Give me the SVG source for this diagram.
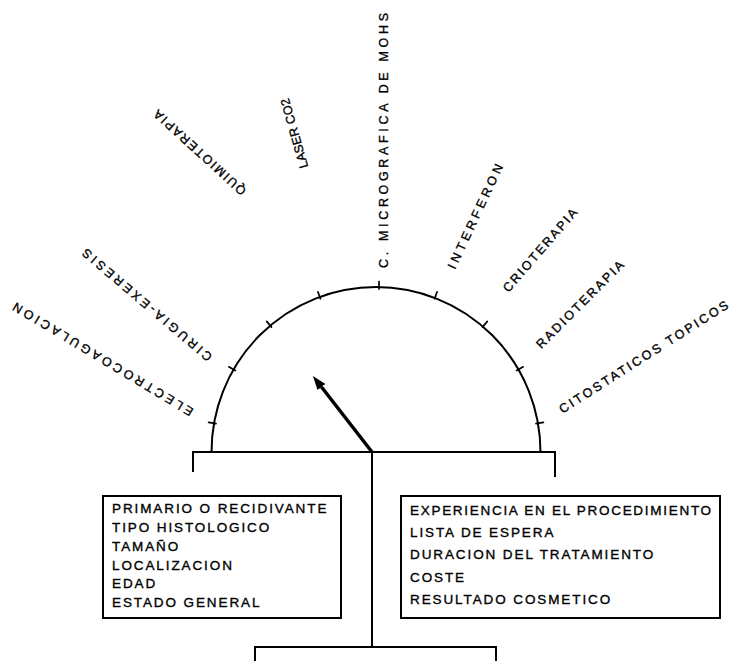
<svg xmlns="http://www.w3.org/2000/svg" width="733" height="661" viewBox="0 0 733 661">
<style>
  .ln{fill:none;stroke:#000;stroke-width:2;stroke-linecap:square}
  .arc{fill:none;stroke:#000;stroke-width:2}
  .tick{stroke:#000;stroke-width:1.7;stroke-linecap:round}
  .lbl{font-family:"Liberation Sans",Arial,sans-serif;font-size:12.5px;fill:#000;stroke:#000;stroke-width:0.35}
  .bx{font-family:"Liberation Sans",Arial,sans-serif;font-size:13.5px;letter-spacing:1.9px;fill:#000;stroke:#000;stroke-width:0.35}
  .box{fill:#fff;stroke:#000;stroke-width:2}
</style>
<defs>
  <marker id="ah" markerUnits="userSpaceOnUse" markerWidth="16" markerHeight="12" refX="0" refY="5" orient="auto">
    <path d="M0,0 L14,5 L0,10 z" fill="#000"/>
  </marker>
</defs>
<rect width="733" height="661" fill="#fff"/>

<g id="gauge">
  <path class="arc" d="M211.5 452 A164.5 165 0 0 1 540.5 452"/>
  <g id="ticks">
    <line class="tick" x1="536.0" y1="423.7" x2="543.4" y2="422.4"/>
    <line class="tick" x1="516.7" y1="370.5" x2="523.2" y2="366.8"/>
    <line class="tick" x1="482.5" y1="327.1" x2="487.3" y2="321.4"/>
    <line class="tick" x1="434.6" y1="298.8" x2="437.1" y2="291.8"/>
    <line class="tick" x1="379" y1="289" x2="379" y2="281.5"/>
    <line class="tick" x1="320.4" y1="298.8" x2="317.9" y2="291.8"/>
    <line class="tick" x1="271.5" y1="327.1" x2="266.7" y2="321.4"/>
    <line class="tick" x1="235.3" y1="370.5" x2="228.8" y2="366.8"/>
    <line class="tick" x1="216.0" y1="423.7" x2="208.6" y2="422.4"/>
  </g>
  <path class="ln" d="M193 471 V452 H555 V476"/>
</g>

<g id="labels">
  <g id="lbl-electro" transform="translate(192 413) rotate(-149)"><text class="lbl" x="0" y="4.5" textLength="208" lengthAdjust="spacing">ELECTROCOAGULACION</text></g>
  <g id="lbl-cirugia" transform="translate(210 359) rotate(-139.5)"><text class="lbl" x="0" y="4.5" textLength="166" lengthAdjust="spacing">CIRUGIA-EXERESIS</text></g>
  <g id="lbl-quimio" transform="translate(244 193) rotate(-137.7)"><text class="lbl" x="0" y="4.5" textLength="120" lengthAdjust="spacing">QUIMIOTERAPIA</text></g>
  <g id="lbl-laser" transform="translate(304 168) rotate(-106)"><text class="lbl" x="0" y="4.5" textLength="72" lengthAdjust="spacing">LASER CO2</text></g>
  <g id="lbl-mohs" transform="translate(383 268) rotate(-90)"><text class="lbl" x="0" y="4.5" textLength="255" lengthAdjust="spacing">C. MICROGRAFICA DE MOHS</text></g>
  <g id="lbl-interferon" transform="translate(451 268) rotate(-65)"><text class="lbl" x="0" y="4.5" textLength="114" lengthAdjust="spacing">INTERFERON</text></g>
  <g id="lbl-crio" transform="translate(505 290) rotate(-49)"><text class="lbl" x="0" y="4.5" textLength="106" lengthAdjust="spacing">CRIOTERAPIA</text></g>
  <g id="lbl-radio" transform="translate(538 346) rotate(-45)"><text class="lbl" x="0" y="4.5" textLength="118" lengthAdjust="spacing">RADIOTERAPIA</text></g>
  <g id="lbl-cito" transform="translate(560 410) rotate(-32.5)"><text class="lbl" x="0" y="4.5" textLength="198" lengthAdjust="spacing">CITOSTATICOS TOPICOS</text></g>
</g>

<g id="connectors">
  <line class="ln" x1="372" y1="452" x2="372" y2="647" stroke-width="2.5"/>
  <line x1="372" y1="452" x2="321.5" y2="387" stroke="#000" stroke-width="3.5" marker-end="url(#ah)"/>
</g>

<g id="box-left">
  <rect class="box" x="103" y="496" width="238" height="122"/>
  <text class="bx" x="112" y="512.5">PRIMARIO O RECIDIVANTE</text>
  <text class="bx" x="112" y="531.5">TIPO HISTOLOGICO</text>
  <text class="bx" x="112" y="550.5">TAMAÑO</text>
  <text class="bx" x="112" y="569.5">LOCALIZACION</text>
  <text class="bx" x="112" y="588">EDAD</text>
  <text class="bx" x="112" y="606.5">ESTADO GENERAL</text>
</g>

<g id="box-right">
  <rect class="box" x="401" y="496" width="319" height="122"/>
  <text class="bx" x="410" y="514.5" textLength="303" lengthAdjust="spacing">EXPERIENCIA EN EL PROCEDIMIENTO</text>
  <text class="bx" x="410" y="536.5">LISTA DE ESPERA</text>
  <text class="bx" x="410" y="559">DURACION DEL TRATAMIENTO</text>
  <text class="bx" x="410" y="581.5">COSTE</text>
  <text class="bx" x="410" y="604">RESULTADO COSMETICO</text>
</g>

<g id="box-bottom">
  <path class="ln" d="M255 663 V647 H496 V663"/>
</g>
</svg>
